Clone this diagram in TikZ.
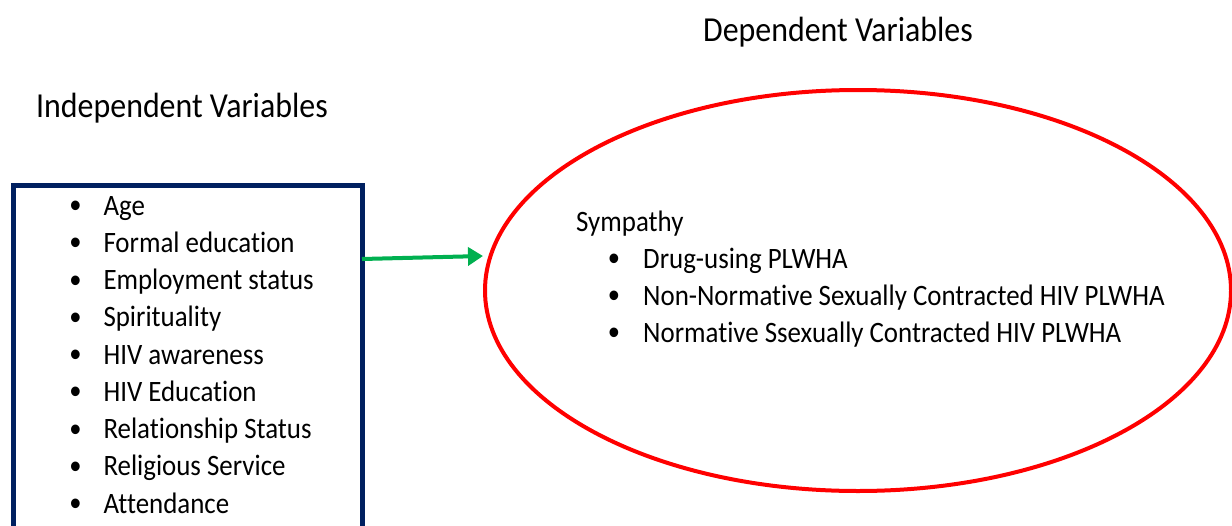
\documentclass[tikz,border=0pt]{standalone}
\usepackage{fontspec}
\setmainfont{Carlito}[Ligatures=NoCommon]
\newfontfamily\bulfont{Liberation Sans}
\usetikzlibrary{arrows.meta,shapes.geometric}
\definecolor{navy}{HTML}{002060}
\definecolor{ellred}{HTML}{FF0000}
\definecolor{arrgreen}{HTML}{00B050}
\newcommand{\vst}[1]{\scalebox{1}[1.1]{#1}}
\begin{document}
\begin{tikzpicture}[x=1pt,y=-1pt,
  titletext/.style={anchor=base west,inner sep=0pt,font=\fontsize{31.9}{36}\selectfont},
  itemtext/.style={anchor=base west,inner sep=0pt,font=\fontsize{26.9}{32}\selectfont},
  bultext/.style={anchor=base,inner sep=0pt,font=\bulfont\fontsize{32}{36}\selectfont}]
\useasboundingbox (0,0) rectangle (1232,525);
\clip (0,0) rectangle (1232,525);
\fill[white] (0,0) rectangle (1232,525);
\node[titletext] (dtitle) at (703,41) {\vst{Dependent Variables}};
\node[titletext] (ititle) at (36,117.7) {\vst{Independent Variables}};
\node[draw=navy, line width=5pt, minimum width=349pt, minimum height=400pt, anchor=north west, inner sep=0pt] (ivbox) at (10.5,183) {};
\node[ellipse, draw=ellred, line width=4pt, minimum width=746pt, minimum height=401pt, inner sep=0pt] (dvell) at (858,290.5) {};
\foreach \t [count=\i] in {Age,Formal education,Employment status,Spirituality,HIV awareness,HIV Education,Relationship Status,Religious Service,Attendance}{
  \node[bultext] (lb\i) at (75.5,{217.5+(\i-1)*37.25}) {\vst{\textbullet}};
  \node[itemtext] (li\i) at (103.3,{215+(\i-1)*37.25}) {\vst{\t}};
}
\node[itemtext] (symp) at (576,231) {\vst{Sympathy}};
\foreach \t [count=\i] in {Drug-using PLWHA,Non-Normative Sexually Contracted HIV PLWHA,Normative Ssexually Contracted HIV PLWHA}{
  \node[bultext] (rb\i) at (614,{270.5+(\i-1)*37}) {\vst{\textbullet}};
  \node[itemtext] (ri\i) at (643,{268+(\i-1)*37}) {\vst{\t}};
}
\coordinate (arrS) at (362,259);
\coordinate (arrE) at (483,256);
\draw[arrgreen, line width=4pt, -{Triangle[length=15pt,width=18pt]}] (arrS) -- (arrE);
\end{tikzpicture}
\end{document}
